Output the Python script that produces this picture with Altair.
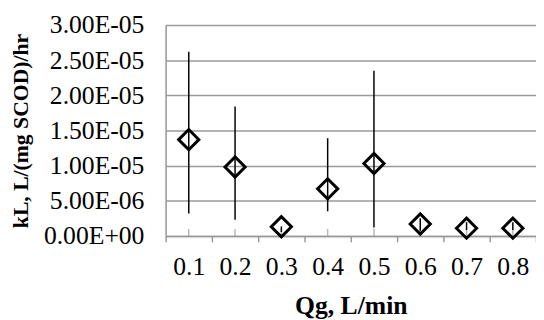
import altair as alt
import pandas as pd

# Data
qg = ["0.1", "0.2", "0.3", "0.4", "0.5", "0.6", "0.7", "0.8"]
kl = [1.37e-5, 9.8e-6, 1.3e-6, 6.7e-6, 1.03e-5, 1.7e-6, 1.1e-6, 1.1e-6]
kl_low = [3.2e-6, 2.3e-6, 0.55e-6, 3.5e-6, 1.2e-6, 0.75e-6, 0.85e-6, 0.85e-6]
kl_high = [2.62e-5, 1.84e-5, 1.35e-6, 1.39e-5, 2.35e-5, 2.5e-6, 1.95e-6, 1.95e-6]
y_ticks = [0, 5e-6, 1e-5, 1.5e-5, 2e-5, 2.5e-5, 3e-5]

df = pd.DataFrame({"qg": qg, "kl": kl, "lo": kl_low, "hi": kl_high})

FONT = "Liberation Serif"
GRAY = "#9a9a9a"

x_axis = alt.Axis(
    title="Qg, L/min",
    labelAngle=0,
    labelOverlap=False,
    tickBand="extent",
    tickSize=6,
    tickWidth=1.5,
    tickColor=GRAY,
    domainColor=GRAY,
    domainWidth=1.5,
    labelPadding=12,
    labelFont=FONT,
    labelFontSize=26,
    labelColor="black",
    titleFont=FONT,
    titleFontSize=26,
    titleFontWeight="bold",
    titleColor="black",
    titleY=58,
    grid=False,
)

y_axis = alt.Axis(
    title="kL, L/(mg SCOD)/hr",
    values=y_ticks,
    labelExpr="replace(replace(format(datum.value, '.2e'), 'e-', 'E-0'), 'e+', 'E+0')",
    labelOverlap=False,
    labelBound=False,
    ticks=False,
    labelPadding=22,
    labelFont=FONT,
    labelFontSize=26,
    labelColor="black",
    domainColor=GRAY,
    domainWidth=1.5,
    grid=True,
    gridColor=GRAY,
    gridWidth=1.5,
    titleFont=FONT,
    titleFontSize=22,
    titleFontWeight="bold",
    titleColor="black",
    titleX=-135,
    titleY=107,
)

x_scale = alt.Scale(type="band", paddingInner=0, paddingOuter=0)
y_scale = alt.Scale(domain=[0, 3e-5], nice=False, zero=True)

x_enc = alt.X("qg:O", sort=qg, scale=x_scale, axis=x_axis)

base = alt.Chart(df)

stubs = base.mark_tick(
    orient="vertical", size=7, thickness=1.5, color=GRAY, yOffset=-3.5
).encode(x=x_enc, y=alt.Y(datum=0, scale=y_scale, axis=y_axis))

bars = base.mark_rule(color="black", strokeWidth=1.5).encode(
    x=x_enc, y=alt.Y("lo:Q", scale=y_scale, axis=y_axis), y2="hi:Q"
)

points = base.mark_point(
    shape="diamond", size=420, filled=False, stroke="black", strokeWidth=3,
    strokeJoin="miter", opacity=1
).encode(x=x_enc, y=alt.Y("kl:Q", scale=y_scale, axis=y_axis))

chart = (
    alt.layer(stubs, bars, points)
    .properties(
        width=376,
        height=214,
        autosize=alt.AutoSizeParams(type="none"),
        padding={"left": 160, "top": 15, "right": 0, "bottom": 83},
    )
    .configure_view(stroke=None)
    .configure_axis(labelOverlap=False)
    .configure(background="white")
)

chart.save("out.html", embed_options={"renderer": "svg", "actions": False})
